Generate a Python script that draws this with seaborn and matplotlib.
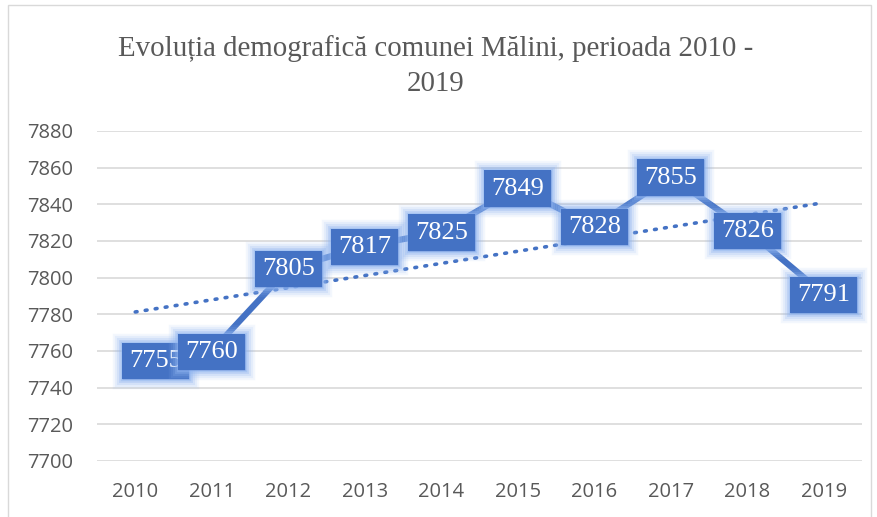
import matplotlib
matplotlib.use("Agg")
import matplotlib.pyplot as plt
import matplotlib.patheffects as pe
from matplotlib.patches import Rectangle
import numpy as np
import pandas as pd
import seaborn as sns

# data
years = ["2010", "2011", "2012", "2013", "2014", "2015", "2016", "2017", "2018", "2019"]
population = [7755, 7760, 7805, 7817, 7825, 7849, 7828, 7855, 7826, 7791]
title = "Evoluția demografică comunei Mălini, perioada 2010 -\n2019"

df = pd.DataFrame({"idx": np.arange(len(years)), "year": years, "pop": population})

blue = "#4472C4"
grey = "#595959"

sns.set_theme(style="whitegrid")
plt.rcParams["font.family"] = ["Open Sans", "DejaVu Sans"]

fig = plt.figure(figsize=(8.77, 5.17), dpi=100)
ax = fig.add_axes([97 / 877, 56 / 517, 765 / 877, 330 / 517])

# trendline (linear fit)
sns.regplot(data=df, x="idx", y="pop", ax=ax, scatter=False, ci=None, truncate=True,
            line_kws=dict(color=blue, lw=2.6, linestyle=(0, (0.5, 2.3)),
                          dash_capstyle="round", zorder=2))

sns.lineplot(data=df, x="idx", y="pop", ax=ax, color=blue, lw=4.5, zorder=3)

ax.set_xlim(-0.5, len(years) - 0.5)
ax.set_ylim(7700, 7880)
ax.set_yticks(range(7700, 7881, 20))
ax.set_xticks(df["idx"])
ax.set_xticklabels(years)
ax.set_xlabel("")
ax.set_ylabel("")
ax.grid(axis="x", visible=False)
ax.grid(axis="y", color="#d9d9d9", lw=1.2)
for s in ax.spines.values():
    s.set_visible(False)
ax.tick_params(axis="both", colors=grey, labelsize=14.5, length=0)
ax.tick_params(axis="x", pad=15)
ax.tick_params(axis="y", pad=17)

# soft glow around the label boxes
glow = [pe.Stroke(linewidth=w, foreground="#8fb4f0", alpha=a)
        for w, a in [(14, 0.10), (11, 0.14), (8, 0.2), (5, 0.3), (2.5, 0.45)]]
glow.append(pe.Normal())

for i, v in zip(df["idx"], df["pop"]):
    dx = 20 if i == 0 else 0
    t = ax.annotate(str(v), (i, v), xytext=(dx * 0.72, -0.5), textcoords="offset points",
                    ha="center", va="center", fontsize=19, color="white",
                    family="Liberation Serif", zorder=5,
                    bbox=dict(boxstyle="square,pad=0.27", fc=blue, ec=blue, lw=0))
    t.get_bbox_patch().set_path_effects(glow)

fig.text(0.497, 0.873, title, ha="center", va="center", fontsize=20.8, color=grey,
         family="Liberation Serif", linespacing=1.45)

fig.patches.append(Rectangle((8 / 877, -0.01), 863 / 877, 1.0, transform=fig.transFigure,
                             fill=False, ec="#d9d9d9", lw=1))

fig.savefig("out.png", dpi=100)
